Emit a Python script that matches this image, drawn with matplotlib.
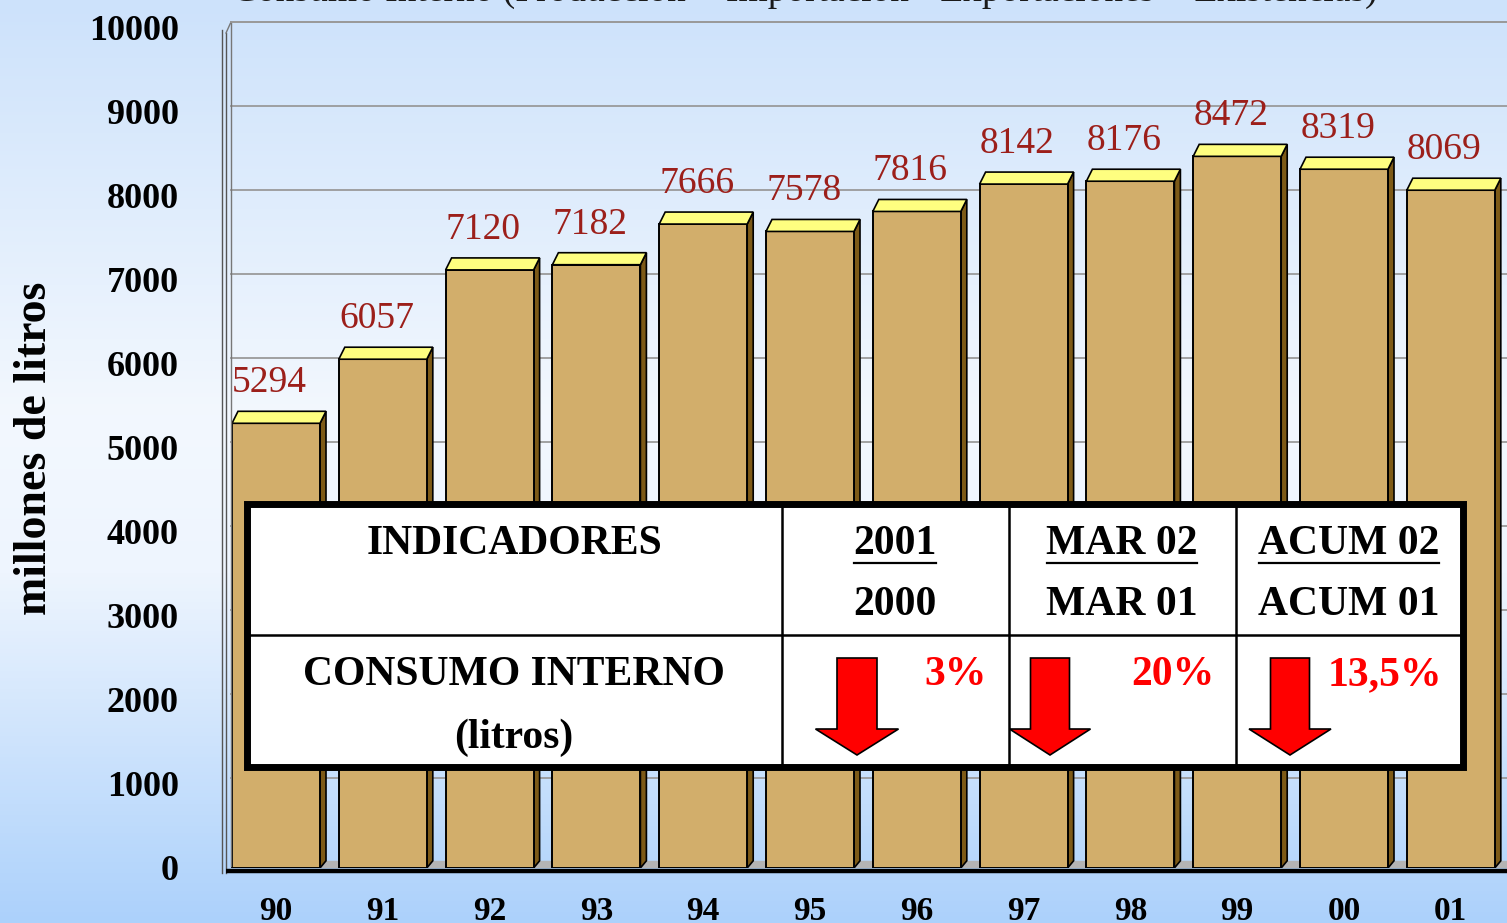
import numpy as np
import matplotlib
matplotlib.use("Agg")
import matplotlib.pyplot as plt
from matplotlib.patches import Polygon, Rectangle
from matplotlib.colors import LinearSegmentedColormap
import matplotlib.transforms as mtransforms

# ---------------- data ----------------
years = ['90', '91', '92', '93', '94', '95', '96', '97', '98', '99', '00', '01']
consumo = [5294, 6057, 7120, 7182, 7666, 7578, 7816, 8142, 8176, 8472, 8319, 8069]
y_ticks = [0, 1000, 2000, 3000, 4000, 5000, 6000, 7000, 8000, 9000, 10000]

title = "Consumo Interno (Producción + Importación - Exportaciones + Existencias)"
ylabel = "millones de litros"

tbl_header_left = "INDICADORES"
tbl_num = ["2001", "MAR 02", "ACUM 02"]
tbl_den = ["2000", "MAR 01", "ACUM 01"]
tbl_row_label = ["CONSUMO INTERNO", "(litros)"]
tbl_pct = ["3%", "20%", "13,5%"]

# ---------------- figure ----------------
W, H = 1507, 923
fig = plt.figure(figsize=(W / 100, H / 100), dpi=100)
SERIF = ['Liberation Serif', 'DejaVu Serif']

# background gradient
bg = fig.add_axes([0, 0, 1, 1], zorder=-10)
cmap = LinearSegmentedColormap.from_list(
    'bg', [(0.0, '#cde2fb'), (0.45, '#f3f8fe'), (0.62, '#eef5fe'), (1.0, '#acd1fb')])
grad = np.linspace(0, 1, 256).reshape(-1, 1)
bg.imshow(grad, aspect='auto', cmap=cmap, extent=[0, 1, 0, 1], origin='upper')
bg.set_axis_off()

# main axes (pixel layout)
ax_l, ax_r, ax_b, ax_t = 222, 1507, 868, 28
ax = fig.add_axes([ax_l / W, (H - ax_b) / H, (ax_r - ax_l) / W, (ax_b - ax_t) / H])
ax.patch.set_alpha(0)
for s in ax.spines.values():
    s.set_visible(False)

spacing_px = 106.8
x0_px = 276
xlim_l = -(x0_px - ax_l) / spacing_px
xlim_r = (ax_r - x0_px) / spacing_px
ax.set_xlim(xlim_l, xlim_r)
ax.set_ylim(0, 10000)
px_per_y = (ax_b - ax_t) / 10000.0

dx = 6 / spacing_px          # depth in x (data)
dy = 12 / px_per_y           # depth in y (data)

x = np.arange(len(years))
bars = ax.bar(x, consumo, width=0.824, color='#d2ae6b', edgecolor='black',
              linewidth=1.4, zorder=5)

# gridlines on back wall
grid_tr = mtransforms.offset_copy(ax.transData, fig=fig, x=0, y=6, units='dots')
wall_x = (231 - x0_px) / spacing_px
for v in y_ticks[1:]:
    ax.plot([wall_x, xlim_r + 1], [v, v], color='#9a9a9a', lw=1.3,
            transform=grid_tr, zorder=1, clip_on=False)

# 3D pieces derived from bars
rects = list(bars)
for i, r in enumerate(rects):
    xl = r.get_x()
    xr = xl + r.get_width()
    h = r.get_height()
    nxt = rects[i + 1].get_x() if i + 1 < len(rects) else xlim_r + 0.2
    ax.add_patch(Polygon([(xr, 0), (xr + dx, dy * 0.6), (nxt + dx, dy * 0.6), (nxt, 0)],
                         closed=True, facecolor='#b4b4b4', edgecolor='none', zorder=2))
    ax.add_patch(Polygon([(xr, 0), (xr + dx, dy * 0.6), (xr + dx, h + dy), (xr, h)],
                         closed=True, facecolor='#7d5a17', edgecolor='black', lw=1.2, zorder=4))
    ax.add_patch(Polygon([(xl, h), (xl + dx, h + dy), (xr + dx, h + dy), (xr, h)],
                         closed=True, facecolor='#fefe80', edgecolor='black', lw=1.2, zorder=6))
    ax.text(i - 0.06, h + 480, f"{consumo[i]}", ha='center', va='center',
            fontsize=27, color='#9c1f1a', family=SERIF, zorder=7)

ax.set_xticks(x)
ax.set_xticklabels(years, fontsize=24, fontweight='bold', family=SERIF)
ax.set_yticks(y_ticks)
ax.set_yticklabels([str(v) for v in y_ticks], fontsize=26, fontweight='bold', family=SERIF)
ax.tick_params(axis='x', length=0, pad=20)
ax.tick_params(axis='y', length=0, pad=31)

# ---------------- overlay in pixel coordinates ----------------
ov = fig.add_axes([0, 0, 1, 1], zorder=20)
ov.set_xlim(0, W)
ov.set_ylim(H, 0)
ov.set_axis_off()
ov.patch.set_alpha(0)

# left wall lines
ov.plot([222, 222], [30, 873], color='#555555', lw=1.0)
ov.plot([226, 226], [33, 873], color='#555555', lw=1.0)
ov.plot([231, 231], [22, 866], color='#777777', lw=1.0)
ov.plot([226, 231], [33, 22], color='#777777', lw=1.0)
ov.plot([231, W], [22, 22], color='#9a9a9a', lw=1.3)
# floor
ov.plot([226, W], [870.5, 870.5], color='black', lw=3.2, solid_capstyle='butt')

# title (clipped at top, as in the reference)
fig.text(232 / W, 1 - 1 / H, title, ha='left', va='baseline', fontsize=27,
         family=SERIF, color='#1a1a1a')

# y label
fig.text(35 / W, 1 - 448 / H, ylabel, rotation=90, ha='center', va='center',
         fontsize=33, fontweight='bold', family=SERIF)

# table
tl, tr_, tt, tb = 247, 1463, 504, 767
ov.add_patch(Rectangle((tl, tt), tr_ - tl, tb - tt, facecolor='white',
                       edgecolor='none', zorder=1))
col_x = [782, 1009, 1236]
row_y = 635
for cx in col_x:
    ov.plot([cx, cx], [tt, tb], color='black', lw=1.8, zorder=2)
ov.plot([tl, tr_], [row_y, row_y], color='black', lw=1.8, zorder=2)
ov.add_patch(Rectangle((tl, tt), tr_ - tl, tb - tt, facecolor='none',
                       edgecolor='black', lw=5.0, zorder=3, joinstyle='miter'))

tfont = dict(family=SERIF, fontweight='bold', fontsize=30)
ov.text(514, 544, tbl_header_left, ha='center', va='center', **tfont)
ov.text(514, 675, tbl_row_label[0], ha='center', va='center', **tfont)
ov.text(514, 738, tbl_row_label[1], ha='center', va='center', **tfont)

num_x = [895, 1122, 1349]
num_texts = []
for cx, n, d in zip(num_x, tbl_num, tbl_den):
    t = ov.text(cx, 544, n, ha='center', va='center', **tfont)
    num_texts.append(t)
    ov.text(cx, 605, d, ha='center', va='center', **tfont)

pct_x = [956, 1173, 1385]
for px, p in zip(pct_x, tbl_pct):
    ov.text(px, 675, p, ha='center', va='center', color='#ff0000', **tfont)

# arrows
arrow_specs = [(857, 40, 83), (1050, 39, 81), (1290, 39, 82)]
for cxa, sw, hw in arrow_specs:
    pts = [(cxa - sw / 2, 658), (cxa + sw / 2, 658), (cxa + sw / 2, 729),
           (cxa + hw / 2, 729), (cxa, 755), (cxa - hw / 2, 729), (cxa - sw / 2, 729)]
    ov.add_patch(Polygon(pts, closed=True, facecolor='#ff0000', edgecolor='black',
                         lw=1.2, zorder=4))

# underlines computed from text extents
fig.canvas.draw()
renderer = fig.canvas.get_renderer()
for t in num_texts:
    bb = t.get_window_extent(renderer)
    ov.plot([bb.x0 + 1, bb.x1 - 1], [563, 563], color='black', lw=1.6, zorder=4)

fig.savefig("out.png", dpi=100)
